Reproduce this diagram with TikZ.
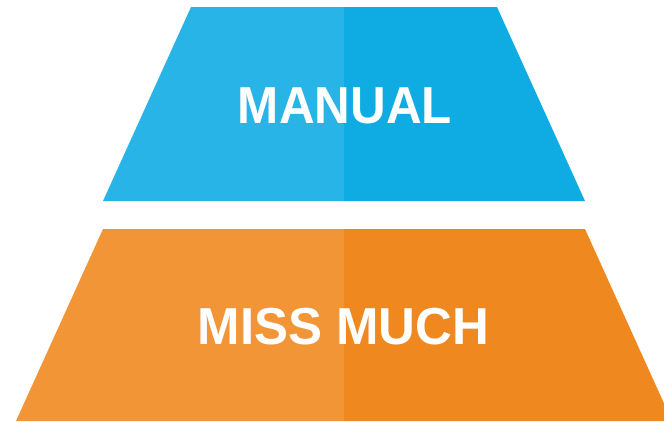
\documentclass[tikz,border=0pt]{standalone}
\usepackage{fontspec}
\setmainfont{Liberation Sans}
\definecolor{blueL}{HTML}{28B4E7}
\definecolor{blueR}{HTML}{0EACE3}
\definecolor{orangeL}{HTML}{F29537}
\definecolor{orangeR}{HTML}{F08820}
\begin{document}
\begin{tikzpicture}[x=1pt,y=-1pt,
  label text/.style={text=white,font=\fontsize{52}{52}\selectfont\bfseries,inner sep=0pt,anchor=center}]
\useasboundingbox (0,0) rectangle (664,421);
\clip (0,0) rectangle (664,421);
% top trapezoid
\fill[blueL] (191,7) -- (344,7) -- (344,201) -- (103,201) -- cycle;
\fill[blueR] (344,7) -- (497,7) -- (585,201) -- (344,201) -- cycle;
% bottom trapezoid
\fill[orangeL] (103,229) -- (344,229) -- (344,421) -- (16,421) -- cycle;
\fill[orangeR] (344,229) -- (585,229) -- (672,421) -- (344,421) -- cycle;
\node[label text,xscale=0.95] (manual) at (345,106) {MANUAL};
\node[label text,xscale=0.98] (miss) at (343.5,326.5) {MISS MUCH};
\end{tikzpicture}
\end{document}
